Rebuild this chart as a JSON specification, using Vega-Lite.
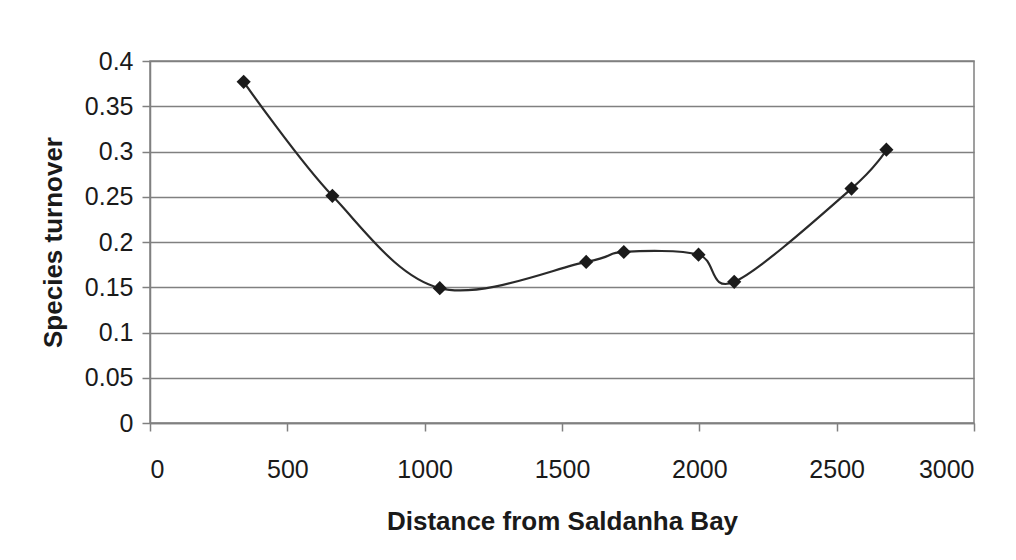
{
  "$schema": "https://vega.github.io/schema/vega-lite/v6.json",
  "autosize": {"type": "none"},
  "padding": {"left": 150, "top": 61, "right": 42, "bottom": 137},
  "width": 824,
  "height": 362,
  "background": "white",
  "data": {
    "values": [
      {"distance": 341, "turnover": 0.377},
      {"distance": 664, "turnover": 0.251},
      {"distance": 1055, "turnover": 0.149},
      {"distance": 1588, "turnover": 0.178},
      {"distance": 1725, "turnover": 0.189},
      {"distance": 1997, "turnover": 0.186},
      {"distance": 2127, "turnover": 0.156},
      {"distance": 2554, "turnover": 0.259},
      {"distance": 2681, "turnover": 0.302}
    ]
  },
  "encoding": {
    "x": {
      "field": "distance",
      "type": "quantitative",
      "scale": {"domain": [0, 3000], "nice": false, "zero": true},
      "axis": {
        "title": "Distance from Saldanha Bay",
        "values": [0, 500, 1000, 1500, 2000, 2500, 3000],
        "format": "d",
        "grid": false,
        "tickSize": 8,
        "labelPadding": 26,
        "titlePadding": 26
      }
    },
    "y": {
      "field": "turnover",
      "type": "quantitative",
      "scale": {"domain": [0, 0.4], "nice": false},
      "axis": {
        "title": "Species turnover",
        "values": [0, 0.05, 0.1, 0.15, 0.2, 0.25, 0.3, 0.35, 0.4],
        "format": "~g",
        "grid": true,
        "tickSize": 8,
        "labelPadding": 9,
        "titlePadding": 18
      }
    }
  },
  "layer": [
    {
      "mark": {"type": "line", "interpolate": "cardinal", "tension": 0, "color": "#2a2a2a", "strokeWidth": 2.2}
    },
    {
      "mark": {"type": "point", "shape": "diamond", "filled": true, "color": "#1a1a1a", "size": 200, "opacity": 1}
    }
  ],
  "config": {
    "view": {"stroke": "#808080", "strokeWidth": 1.5},
    "axis": {
      "labelFont": "Liberation Sans",
      "titleFont": "Liberation Sans",
      "labelFontSize": 25,
      "titleFontSize": 26,
      "labelColor": "#1a1a1a",
      "titleColor": "#1a1a1a",
      "titleFontWeight": "bold",
      "domainColor": "#808080",
      "domainWidth": 1.5,
      "tickColor": "#808080",
      "tickWidth": 1.5,
      "gridColor": "#808080",
      "gridWidth": 1.5,
      "gridOpacity": 1
    }
  }
}
